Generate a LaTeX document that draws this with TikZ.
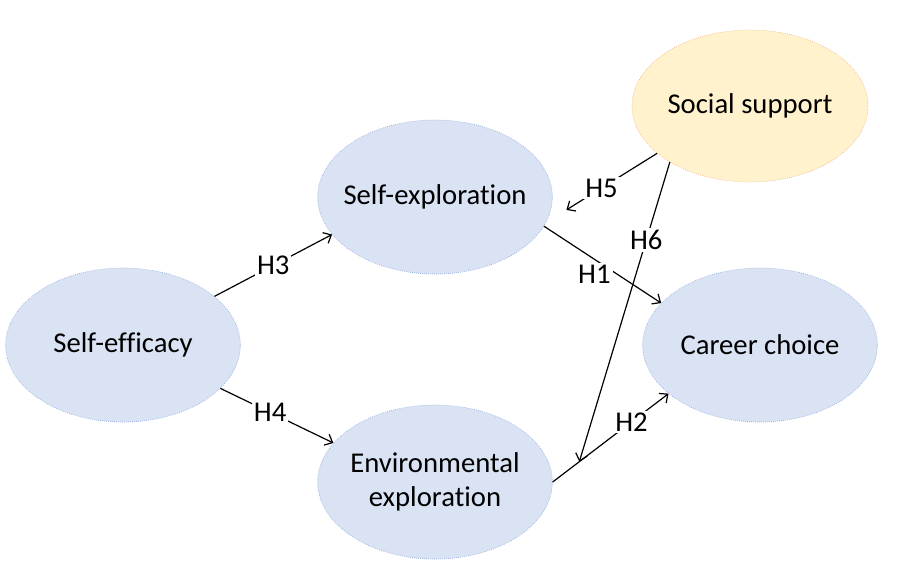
\documentclass[tikz,border=0pt]{standalone}
\usepackage{xcolor}
\usepackage{fontspec}
\setmainfont{Carlito}[Ligatures=NoCommon]
\usetikzlibrary{shapes.geometric,arrows.meta}

\definecolor{varblue}{RGB}{218,227,243}
\definecolor{varline}{RGB}{143,170,220}
\definecolor{modgold}{RGB}{255,242,204}
\definecolor{modline}{RGB}{244,177,131}

\begin{document}
\begin{tikzpicture}[x=0.75pt, y=-0.75pt,
    font=\fontsize{21.5}{25.5}\selectfont,
    var/.style={ellipse, fill=varblue, draw=varline, densely dotted, line width=0.5pt,
        minimum width=176pt, minimum height=115.5pt, inner xsep=-9pt, inner ysep=0pt, align=center},
    moderator/.style={var, fill=modgold, draw=modline, minimum width=177pt, minimum height=114pt},
    hyp/.style={fill=white, inner sep=1.5pt},
    link/.style={-{Straight Barb[length=5pt,width=9pt]}, line width=0.9pt}]
    \useasboundingbox (0,0) rectangle (904,579);

    \node[var] (selfeff) at (123,345) {Self-efficacy};
    \node[var] (selfexp) at (435,197) {Self-exploration};
    \node[var] (envexp) at (435,482) {Environmental\\exploration};
    \node[var] (career) at (760,345) {Career choice};
    \node[moderator] (social) at (750,106) {Social support};

    \draw [link] (selfeff.28) -- node[hyp, pos=0.5] {H3} (selfexp.200);
    \draw [link] (selfeff.-24) -- node[hyp, pos=0.44] {H4} (envexp.159);
    \draw [link] (selfexp.-15) -- node[hyp, pos=0.43, yshift=-11pt] {H1} (career.157);
    \draw [link] (envexp.east) -- coordinate[pos=0.23] (h6end) node[hyp, pos=0.68] {H2} (career.208);
    \draw [link, shorten >=18pt] (social.207) -- node[hyp, pos=0.5] {H5} (selfexp.-13);
    \draw [link] (social.215) -- node[hyp, pos=0.26] {H6} (h6end);

\end{tikzpicture}
\end{document}
